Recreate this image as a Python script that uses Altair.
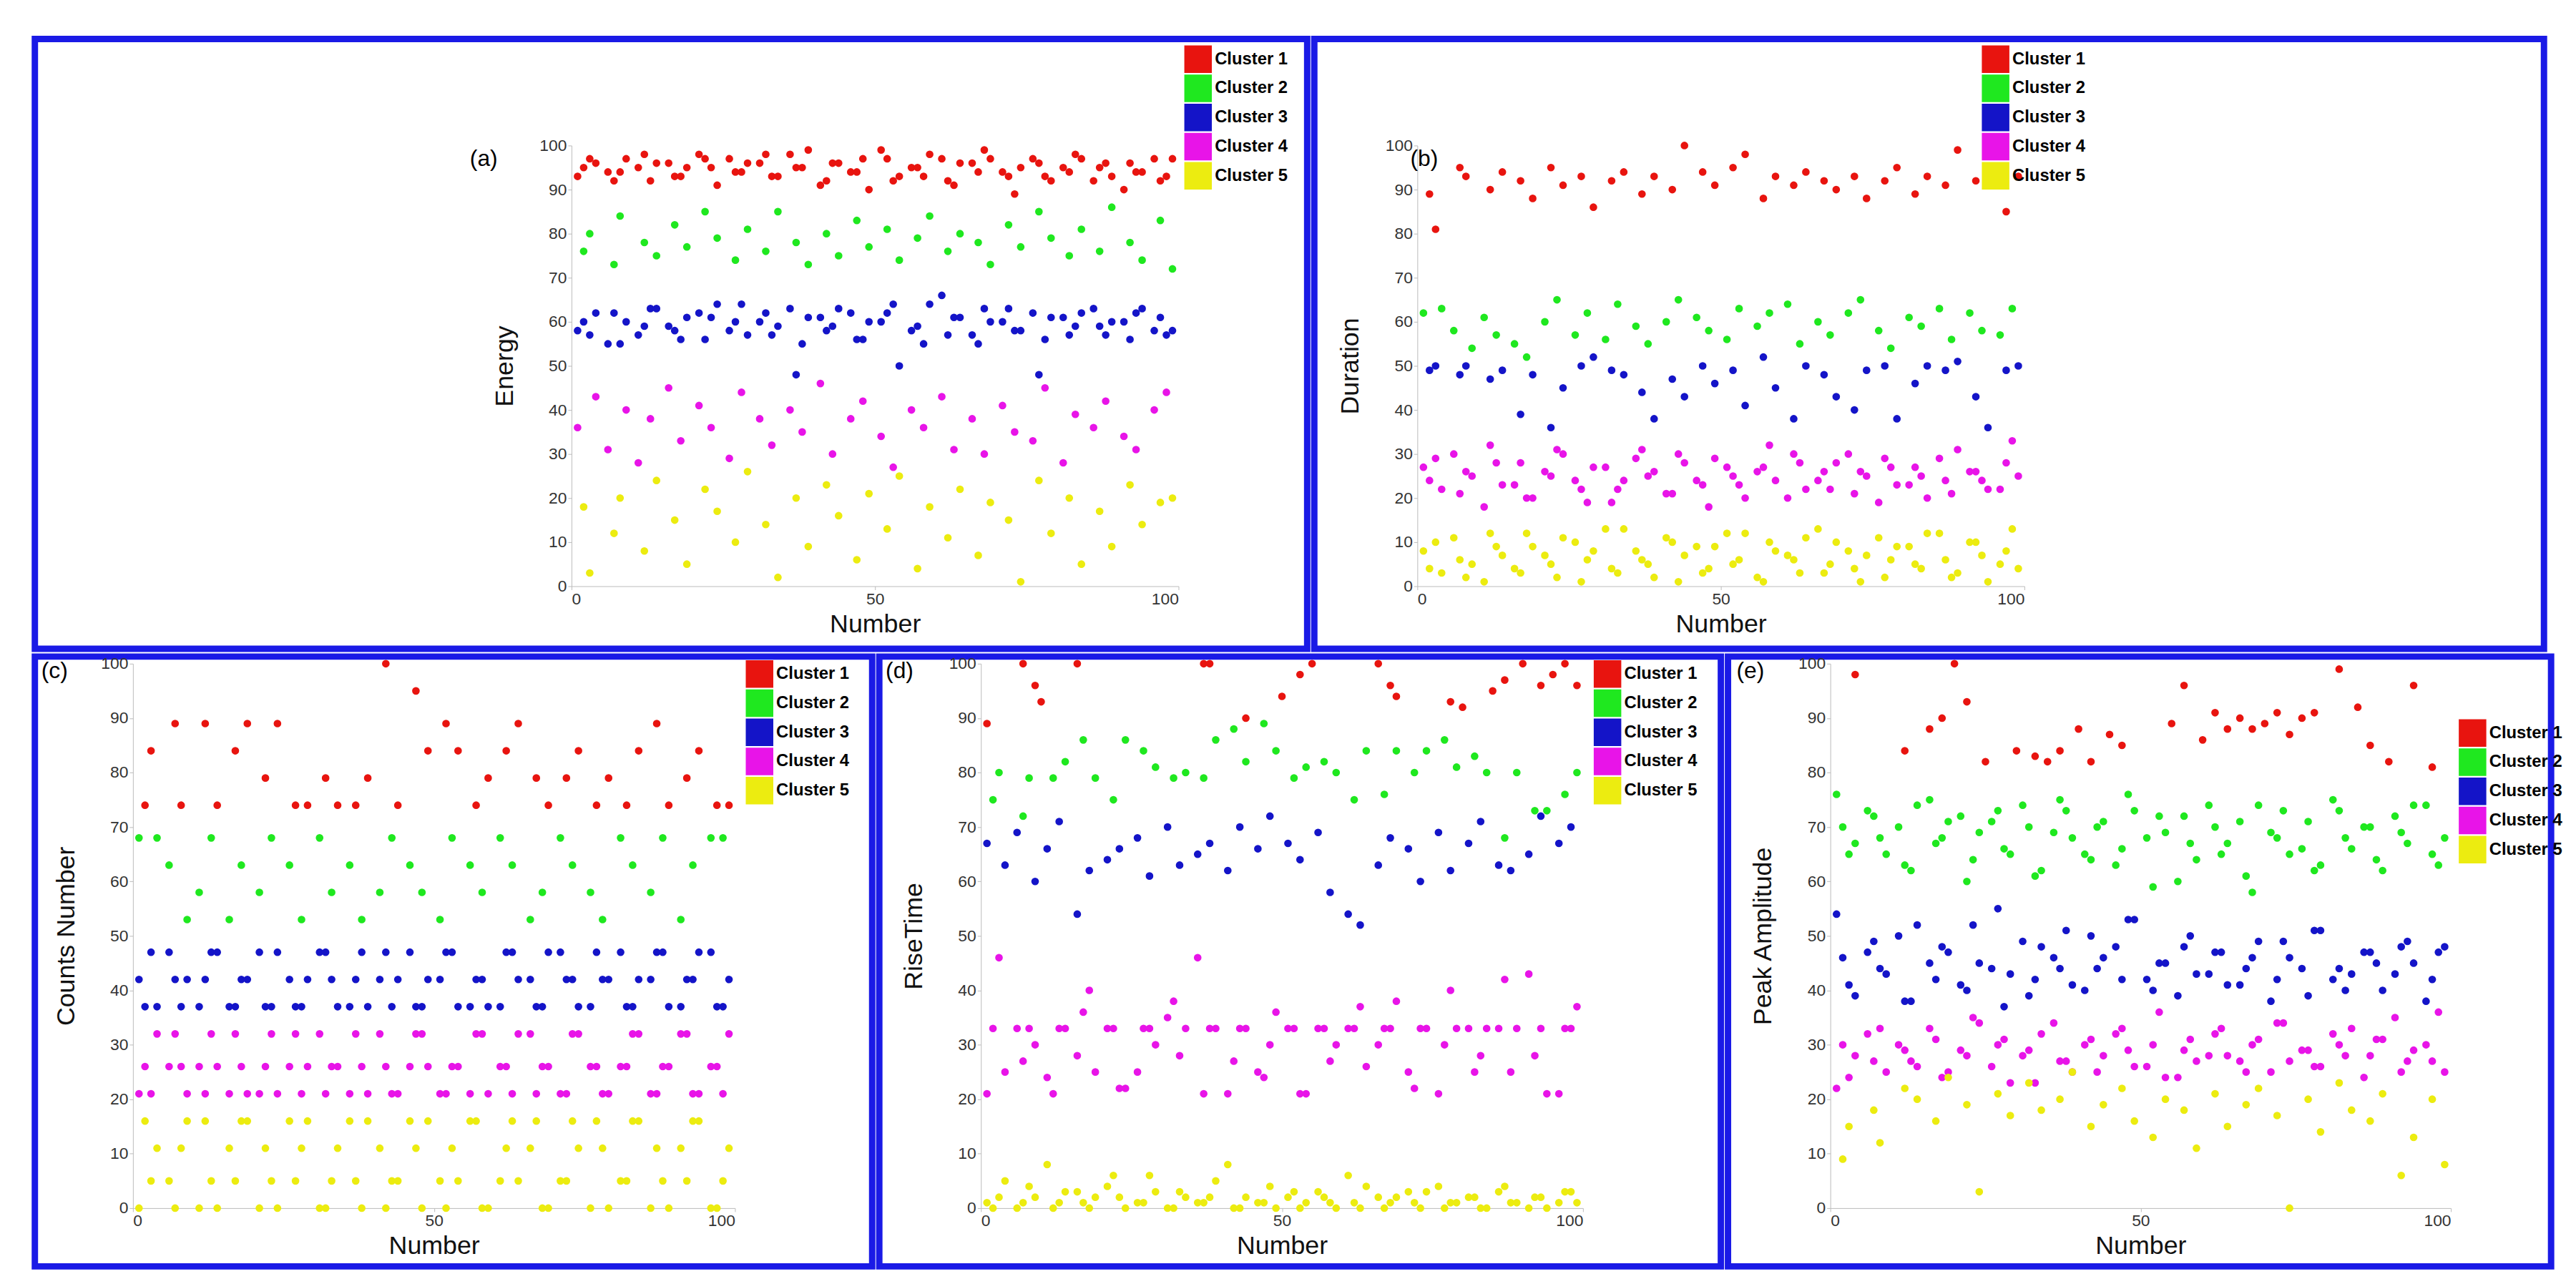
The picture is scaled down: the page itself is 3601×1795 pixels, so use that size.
import altair as alt
import pandas as pd

# shared sample numbers
XA = [1,4,6,9,11,13,16,18,21,23,26,28,31,33,36,38,41,43,46,48,51,53,56,58,61,63,66,68,71,73,76,78,81,83,86,88,91,93,96,98]
XB = [2,3,7,8,12,14,17,19,22,24,27,29,32,34,37,39,42,44,47,49,52,54,57,59,62,64,67,69,72,74,77,79,82,84,87,89,92,94,97,99]

# (a) Energy
a_red = [93,96,94,97,95,92,96,93,98,95,97,94,96,93,98,95,91,96,94,97,99,92,95,93,97,91,96,99,94,89,97,93,95,98,92,96,90,94,97,93]
a_red2 = [95,97,92,94,98,96,93,95,97,91,94,96,98,93,95,99,92,96,94,90,97,93,95,98,92,96,94,97,93,95,96,92,94,97,95,93,96,94,92,97]
a_green = [76,80,73,84,78,75,82,77,85,79,74,81,76,85,78,73,80,75,83,77,81,74,79,84,76,80,78,73,82,77,85,79,75,81,76,86,78,74,83,72]
a_blue = [58,62,55,60,57,63,59,56,62,61,58,64,60,57,63,55,61,59,62,56,60,64,58,55,66,61,57,63,60,58,62,56,61,59,63,57,60,62,58,57]
a_blue2 = [60,57,62,55,59,63,58,61,56,64,60,57,62,59,48,61,58,63,56,60,62,50,59,64,57,61,55,60,63,58,48,61,57,62,59,60,56,63,61,58]
a_mag = [36,43,31,40,28,38,45,33,41,36,29,44,38,32,40,35,46,30,38,42,34,27,40,36,43,31,38,30,41,35,33,45,28,39,36,42,34,31,40,44]
a_yel = [18,3,12,20,8,24,15,5,22,17,10,26,14,2,20,9,23,16,6,21,13,25,4,18,11,22,7,19,15,1,24,12,20,5,17,9,23,14,19,20]

# (b) Duration
b_red = [89,81,95,93,90,94,92,88,95,91,93,86,92,94,89,93,90,100,94,91,95,98,88,93,91,94,92,90,93,88,92,95,89,93,91,99,92,94,85,93]
b_green = [62,63,58,54,61,57,55,52,60,65,57,62,56,64,59,55,60,65,61,58,56,63,59,62,64,55,60,57,62,65,58,54,61,59,63,56,62,58,57,63]
b_blue = [49,50,48,50,47,49,39,48,36,45,50,52,49,48,44,38,47,43,50,46,49,41,52,45,38,50,48,43,40,49,50,38,46,50,49,51,43,36,49,50]
b_mag = [27,22,30,25,18,28,23,20,26,31,24,19,27,22,29,25,21,30,24,18,27,23,26,32,20,28,24,22,30,26,19,27,23,25,29,21,26,24,22,33]
b_mag2 = [24,29,21,26,32,23,28,20,25,30,22,27,19,24,31,26,21,28,23,29,25,20,27,24,30,22,26,28,21,25,29,23,27,20,24,31,26,22,28,25]
b_yel = [8,3,11,5,1,9,4,12,7,2,10,6,13,3,8,5,11,1,9,4,12,6,2,10,7,3,13,5,8,1,11,6,9,4,12,2,10,7,5,13]
b_yel2 = [4,10,6,2,12,7,3,9,5,11,1,8,4,13,6,2,10,7,3,9,5,12,1,8,6,11,3,10,4,7,2,9,5,12,6,3,10,1,8,4]

# (c) Counts Number
c_red = [74,84,89,74,89,74,84,89,79,89,74,74,79,74,74,79,100,74,95,84,89,84,74,79,84,89,79,74,79,84,74,79,74,84,89,74,79,84,74,74]
c_green = [68,68,63,53,58,68,53,63,58,68,63,53,68,58,63,53,58,68,63,58,53,68,63,58,68,63,53,58,68,63,58,53,68,63,58,68,53,63,68,68]
c_blue = [42,37,47,42,37,47,37,42,47,37,42,37,47,42,37,47,42,37,47,37,42,47,37,42,37,47,42,37,47,42,37,42,47,37,42,47,37,42,47,37]
c_blue2 = [37,47,42,37,42,47,37,42,37,47,37,42,47,37,42,37,47,42,37,42,47,37,42,37,47,42,37,47,42,37,47,42,37,42,47,37,42,47,37,42]
c_mag = [21,32,26,21,26,32,21,26,21,32,26,21,32,26,21,26,32,21,26,32,21,26,21,32,26,21,32,26,21,32,26,21,26,32,21,26,32,21,26,21]
c_mag2 = [26,21,32,26,21,26,32,21,26,21,32,26,21,26,32,21,26,21,32,26,21,26,32,21,26,32,21,26,21,32,26,21,26,32,21,26,32,21,26,32]
c_yel = [0,11,5,16,0,5,11,16,0,5,16,11,0,5,16,0,11,5,16,0,5,11,16,0,5,16,11,0,5,16,0,11,5,16,0,5,11,16,0,5]
c_yel2 = [16,5,0,11,16,0,5,16,11,0,5,16,0,11,5,16,0,5,11,16,0,5,16,0,11,5,16,0,5,11,16,0,5,16,11,0,5,16,0,11]

# (d) RiseTime
d_red_x = [1,7,9,10,16,37,38,44,50,53,55,66,68,69,78,80,85,87,90,93,95,97,99]
d_red = [89,100,96,93,100,100,100,90,94,98,100,100,96,94,93,92,95,97,100,96,98,100,96]
d_green = [75,80,72,79,79,82,86,79,75,86,84,81,79,80,79,86,88,82,89,84,79,81,82,80,75,84,76,84,80,84,86,81,83,80,68,80,73,73,76,80]
d_blue = [67,63,69,60,66,71,54,62,64,66,68,61,70,63,65,67,62,70,66,72,67,64,69,58,54,52,63,68,66,60,69,62,67,71,63,62,65,72,67,70]
d_mag = [21,25,33,30,24,33,28,40,33,22,25,33,35,28,46,33,21,33,25,30,33,21,33,27,33,37,30,33,25,33,21,40,33,28,33,25,43,33,21,33]
d_mag2 = [33,46,27,33,21,33,36,25,33,22,33,30,38,33,21,33,27,33,24,36,33,21,33,30,33,26,33,38,22,33,30,33,25,33,42,33,28,21,33,37]
d_yel = [1,5,0,2,8,1,3,0,4,2,1,6,0,3,1,2,8,0,1,4,2,0,3,1,6,0,2,1,3,0,4,1,2,0,3,1,0,2,1,3]
d_yel2 = [0,2,1,4,0,3,1,2,6,0,1,3,0,2,1,5,0,2,1,0,3,1,2,0,1,4,0,2,1,3,0,1,2,0,4,1,2,0,3,1]

# (e) Peak Amplitude
e_red_x = [4,12,16,18,20,22,25,30,33,35,37,40,42,45,47,55,57,60,62,64,66,68,70,72,74,76,78,82,85,87,90,94,97]
e_red = [98,84,88,90,100,93,82,84,83,82,84,88,82,87,85,89,96,86,91,88,90,88,89,91,87,90,91,99,92,85,82,96,81]
e_green = [76,67,73,65,70,62,75,68,72,64,71,66,74,61,69,73,65,70,63,76,68,72,60,67,74,65,71,58,69,73,66,62,75,68,70,64,72,67,74,63]
e_green2 = [70,65,72,68,63,74,67,71,60,69,73,65,70,62,75,68,64,71,66,73,59,69,72,64,70,67,61,74,68,65,71,63,73,66,70,62,69,74,65,68]
e_blue = [54,39,47,43,50,38,45,48,41,52,44,37,49,42,46,51,40,44,48,53,42,45,39,50,43,47,41,46,38,49,44,51,42,40,47,45,43,49,38,47]
e_blue2 = [46,41,49,44,38,52,42,47,40,45,55,43,39,48,44,41,50,46,42,53,40,45,48,43,47,41,44,49,42,46,39,51,44,43,47,40,48,45,42,48]
e_mag = [22,28,32,25,30,27,33,24,29,35,26,31,28,23,34,27,30,25,32,29,26,36,24,31,28,33,27,30,25,34,29,26,32,28,24,31,35,27,30,36]
e_mag2 = [30,24,27,33,29,26,31,25,28,34,30,23,29,32,27,25,31,28,33,26,30,24,29,27,32,28,25,31,34,27,29,26,30,33,28,31,25,29,27,25]
e_yel = [9,15,18,12,22,20,16,24,19,3,21,17,23,18,20,25,15,19,22,16,13,20,18,11,21,15,19,22,17,0,20,14,23,18,16,21,6,13,20,8]

CLUSTERS = ["Cluster 1", "Cluster 2", "Cluster 3", "Cluster 4", "Cluster 5"]
COLORS = ["#e8140f", "#1fe81f", "#1414c8", "#e814e8", "#ecec10"]


def frame(series):
    rows = []
    for cluster, xs, ys in series:
        for x, y in zip(xs, ys):
            rows.append({"Number": x, "value": y, "cluster": cluster})
    return pd.DataFrame(rows)


# each panel: the view is the whole blue box; the plot sits inside via pixel ranges
def panel(series, tag, ytitle, box_w, box_h, left, top, w, h, legend_xy, tag_xy):
    df = frame(series)
    bottom_gap = box_h - top - h
    pts = alt.Chart(df).mark_circle(size=115, opacity=1).encode(
        x=alt.X("Number:Q", scale=alt.Scale(domain=[0, 100], nice=False, range=[left, left + w]),
                axis=alt.Axis(values=[0, 50, 100], title="Number", offset=-bottom_gap)),
        y=alt.Y("value:Q", scale=alt.Scale(domain=[0, 100], nice=False, range=[top + h, top]),
                axis=alt.Axis(values=list(range(0, 101, 10)), title=ytitle, offset=-left)),
        color=alt.Color("cluster:N", scale=alt.Scale(domain=CLUSTERS, range=COLORS),
                        legend=alt.Legend(title=None, orient="none",
                                          legendX=legend_xy[0], legendY=legend_xy[1],
                                          symbolType="square", symbolSize=1500,
                                          symbolStrokeWidth=0, labelFontWeight="bold",
                                          labelFontSize=24, rowPadding=2)),
    )
    label = alt.Chart(pd.DataFrame({"t": [tag]})).mark_text(
        fontSize=32, align="left", baseline="middle").encode(
        x=alt.value(tag_xy[0]), y=alt.value(tag_xy[1]), text="t:N")
    return alt.layer(pts, label).properties(width=box_w, height=box_h)


pa = panel([("Cluster 1", XA, a_red), ("Cluster 1", XB, a_red2), ("Cluster 2", XB, a_green),
            ("Cluster 3", XA, a_blue), ("Cluster 3", XB, a_blue2), ("Cluster 4", XA, a_mag),
            ("Cluster 5", XB, a_yel)],
           "(a)", "Energy", 1790, 858, 755, 150, 854, 620, (1617, 9), (612, 169))
pb = panel([("Cluster 1", XB, b_red), ("Cluster 2", XA, b_green), ("Cluster 3", XB, b_blue),
            ("Cluster 4", XA, b_mag), ("Cluster 4", XB, b_mag2), ("Cluster 5", XA, b_yel),
            ("Cluster 5", XB, b_yel2)],
           "(b)", "Duration", 1730, 858, 145, 150, 854, 620, (939, 9), (135, 169))
pc = panel([("Cluster 1", XB, c_red), ("Cluster 2", XA, c_green), ("Cluster 3", XA, c_blue),
            ("Cluster 3", XB, c_blue2), ("Cluster 4", XA, c_mag), ("Cluster 4", XB, c_mag2),
            ("Cluster 5", XA, c_yel), ("Cluster 5", XB, c_yel2)],
           "(c)", "Counts Number", 1178, 858, 138, 10, 847, 766, (1000, 5), (9, 20))
pd_ = panel([("Cluster 1", d_red_x, d_red), ("Cluster 2", XB, d_green), ("Cluster 3", XA, d_blue),
             ("Cluster 4", XA, d_mag), ("Cluster 4", XB, d_mag2), ("Cluster 5", XA, d_yel),
             ("Cluster 5", XB, d_yel2)],
            "(d)", "RiseTime", 1184, 858, 143, 10, 847, 766, (1005, 5), (9, 20))
pe = panel([("Cluster 1", e_red_x, e_red), ("Cluster 2", XA, e_green), ("Cluster 2", XB, e_green2),
            ("Cluster 3", XA, e_blue), ("Cluster 3", XB, e_blue2), ("Cluster 4", XA, e_mag),
            ("Cluster 4", XB, e_mag2), ("Cluster 5", XB, e_yel)],
           "(e)", "Peak Amplitude", 1158, 858, 144, 10, 873, 766, (1028, 88), (12, 20))

top_row = alt.hconcat(pa, pb, spacing=0).resolve_scale(color="independent")
bottom_row = alt.hconcat(pc, pd_, pe, spacing=0).resolve_scale(color="independent")
chart = alt.vconcat(top_row, bottom_row, spacing=0).resolve_scale(color="independent").properties(
    padding={"left": 36, "top": 36, "right": 6, "bottom": 6}, background="white"
).configure_view(stroke="#1a1ae6", strokeWidth=9).configure_axis(
    grid=False, labelFontSize=23, titleFontSize=36, titleFontWeight="normal",
    domainColor="#bbbbbb", tickColor="#bbbbbb", labelColor="#333333", titleColor="#111111",
    labelFont="Liberation Sans", titleFont="Liberation Sans"
).configure_axisY(titlePadding=30).configure_axisX(titlePadding=6).configure_legend(
    labelFont="Liberation Sans")

chart.save("out.html", embed_options={"renderer": "svg", "actions": False})
